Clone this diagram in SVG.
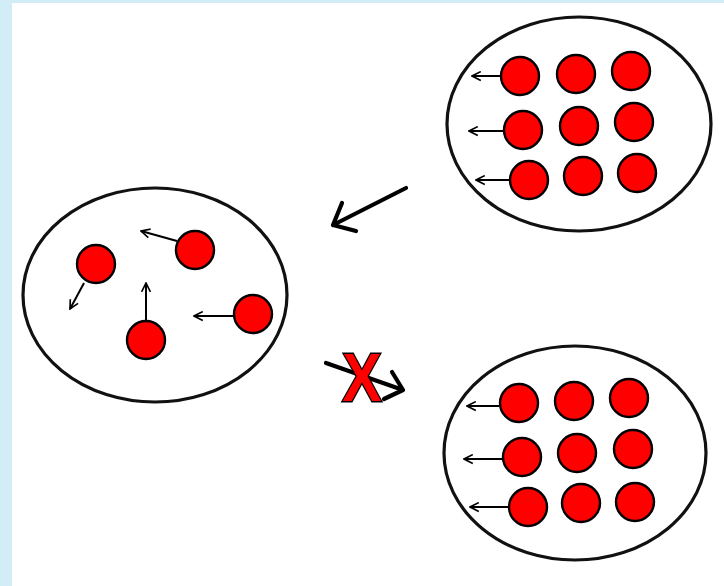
<svg xmlns="http://www.w3.org/2000/svg" width="724" height="586" viewBox="0 0 724 586">
<defs>
<marker id="ah" viewBox="0 0 10 10" refX="9" refY="5" markerWidth="11" markerHeight="11" markerUnits="userSpaceOnUse" orient="auto">
<path d="M1,1 L9,5 L1,9" fill="none" stroke="#000" stroke-width="1.5"/>
</marker>
</defs>
<style>
.cont{fill:#fff;stroke:#111;stroke-width:3.2}
.p{fill:#f00;stroke:#000;stroke-width:2.4}
.v{stroke:#000;stroke-width:2;fill:none;marker-end:url(#ah)}
.big{stroke:#000;stroke-width:4.2;fill:none;stroke-linecap:round;stroke-linejoin:round}
</style>
<rect x="0" y="0" width="724" height="586" fill="#d2edf5"/>
<rect x="12" y="3" width="712" height="583" fill="#fff"/>
<g id="gas">
<ellipse class="cont" cx="155" cy="295" rx="132" ry="107"/>
<line class="v" x1="84" y1="283" x2="70" y2="309"/>
<line class="v" x1="177" y1="241" x2="141" y2="231"/>
<line class="v" x1="146" y1="322" x2="146" y2="283"/>
<line class="v" x1="233" y1="316" x2="194" y2="316"/>
<circle class="p" cx="96" cy="264" r="19"/>
<circle class="p" cx="195" cy="250" r="19"/>
<circle class="p" cx="146" cy="340" r="19"/>
<circle class="p" cx="253" cy="314" r="19"/>
</g>
<g id="solid-top">
<ellipse class="cont" cx="579" cy="124" rx="132" ry="107"/>
<line class="v" x1="501" y1="76" x2="472" y2="76"/>
<line class="v" x1="505" y1="131" x2="469" y2="131"/>
<line class="v" x1="510" y1="180" x2="476" y2="180"/>
<circle class="p" cx="520" cy="76" r="19"/>
<circle class="p" cx="576" cy="74" r="19"/>
<circle class="p" cx="631" cy="71" r="19"/>
<circle class="p" cx="523" cy="130" r="19"/>
<circle class="p" cx="579" cy="126" r="19"/>
<circle class="p" cx="634" cy="122" r="19"/>
<circle class="p" cx="529" cy="180" r="19"/>
<circle class="p" cx="583" cy="176" r="19"/>
<circle class="p" cx="637" cy="173" r="19"/>
</g>
<g id="solid-bottom">
<ellipse class="cont" cx="575" cy="453" rx="131" ry="107"/>
<line class="v" x1="499" y1="406" x2="467" y2="406"/>
<line class="v" x1="503" y1="459" x2="464" y2="459"/>
<line class="v" x1="509" y1="507" x2="470" y2="507"/>
<circle class="p" cx="519" cy="403" r="19"/>
<circle class="p" cx="574" cy="401" r="19"/>
<circle class="p" cx="629" cy="398" r="19"/>
<circle class="p" cx="522" cy="457" r="19"/>
<circle class="p" cx="577" cy="453" r="19"/>
<circle class="p" cx="633" cy="449" r="19"/>
<circle class="p" cx="528" cy="507" r="19"/>
<circle class="p" cx="581" cy="503" r="19"/>
<circle class="p" cx="635" cy="502" r="19"/>
</g>
<g id="connectors">
<path class="big" d="M406,188 L333,225 M342,203 L333,225 L356,231"/>
<path class="big" d="M326,363 L403,390 M392,372 L403,390 L384,399"/>
</g>
<g id="blocked">
<text x="0" y="0" transform="translate(362,401) scale(0.95,1.1)" text-anchor="middle" font-family="Liberation Sans, Arial, sans-serif" font-weight="bold" font-size="62" fill="#f00" stroke="#000" stroke-width="2.5" paint-order="stroke">X</text>
</g>
</svg>
